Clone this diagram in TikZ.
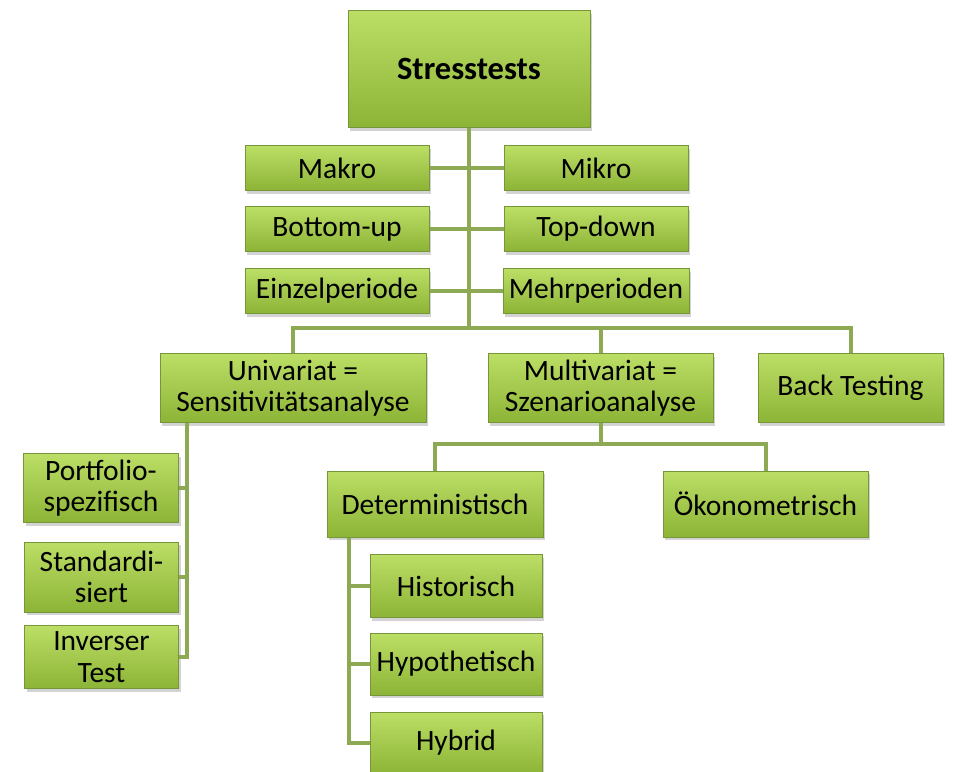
\documentclass[tikz,border=0pt]{standalone}
\usepackage{fontspec}
\setmainfont{Carlito}
\usetikzlibrary{shadows}
\definecolor{boxtop}{HTML}{BCDE66}
\definecolor{boxbot}{HTML}{8CB436}
\definecolor{boxline}{HTML}{76963A}
\definecolor{conncol}{HTML}{8DA954}
\tikzset{bx/.append style={draw=boxline, line width=1pt, top color=boxtop, bottom color=boxbot,
  inner sep=0pt, align=center, font=\fontsize{29.5}{31.5}\selectfont,
  drop shadow={opacity=0.35, shadow xshift=2pt, shadow yshift=-3pt}}}
\tikzset{cn/.append style={draw=conncol, line width=4pt}}

\begin{document}
\begin{tikzpicture}[x=1pt,y=-1pt]
                \clip (0,0) rectangle (953,771);
                \coordinate (bus) at (0,328);
                \coordinate (bus2) at (0,444);
                \coordinate (sp1) at (187,0);
                \coordinate (sp2) at (349,0);
                % root
                \node[bx,minimum width=242,minimum height=117,font=\fontsize{32.5}{34}\selectfont\bfseries] (st) at (469,69) {Stresstests};
                % row pairs
                \node[bx,minimum width=184,minimum height=45] (ma) at (337,168) {Makro};
                \node[bx,minimum width=184,minimum height=45] (mi) at (596,168) {Mikro};
                \node[bx,minimum width=184,minimum height=45] (bu) at (337,229) {Bottom-up};
                \node[bx,minimum width=184,minimum height=45] (td) at (596,229) {Top-down};
                \node[bx,minimum width=184,minimum height=45] (ez) at (337,291) {Einzelperiode};
                \node[bx,minimum width=186,minimum height=45] (me) at (596,291) {Mehrperioden};
                % second level
                \node[bx,minimum width=266,minimum height=69] (uv) at (293,388) {Univariat =\\Sensitivitätsanalyse};
                \node[bx,minimum width=225,minimum height=69] (mv) at (600.5,388) {Multivariat =\\Szenarioanalyse};
                \node[bx,minimum width=185,minimum height=69] (bt) at (850.5,388) {Back Testing};
                % univariat children
                \node[bx,minimum width=155,minimum height=69] (pf) at (101,488) {Portfolio-\\spezifisch};
                \node[bx,minimum width=154,minimum height=70] (sd) at (101.5,577) {Standardi-\\siert};
                \node[bx,minimum width=154,minimum height=63] (it) at (101.5,657) {Inverser\\Test};
                % multivariat children
                \node[bx,minimum width=216,minimum height=66] (de) at (435,504) {Deterministisch};
                \node[bx,minimum width=205,minimum height=66] (ok) at (765.5,504) {Ökonometrisch};
                \node[bx,minimum width=172,minimum height=63] (hi) at (456,586) {Historisch};
                \node[bx,minimum width=172,minimum height=62] (hy) at (456,664) {Hypothetisch};
                \node[bx,minimum width=172,minimum height=62] (hb) at (456,743) {Hybrid};
                % connectors
                \path[cn] (st.south) -- (st.south |- bus);
                \path[cn] (ma.east) -- (ma.east -| st.south) (mi.west) -- (mi.west -| st.south);
                \path[cn] (bu.east) -- (bu.east -| st.south) (td.west) -- (td.west -| st.south);
                \path[cn] (ez.east) -- (ez.east -| st.south) (me.west) -- (me.west -| st.south);
                \path[cn] (uv.north) |- (bt.north |- bus) -- (bt.north);
                \path[cn] (mv.north) -- (mv.north |- bus);
                \path[cn] (mv.south) -- (mv.south |- bus2);
                \path[cn] (de.north) |- (ok.north |- bus2) -- (ok.north);
                \path[cn] (sp1 |- uv.south) |- (it.east);
                \path[cn] (pf.east) -- (pf.east -| sp1) (sd.east) -- (sd.east -| sp1);
                \path[cn] (sp2 |- de.south) |- (hb.west);
                \path[cn] (hi.west) -- (hi.west -| sp2) (hy.west) -- (hy.west -| sp2);
            \end{tikzpicture}
\end{document}
